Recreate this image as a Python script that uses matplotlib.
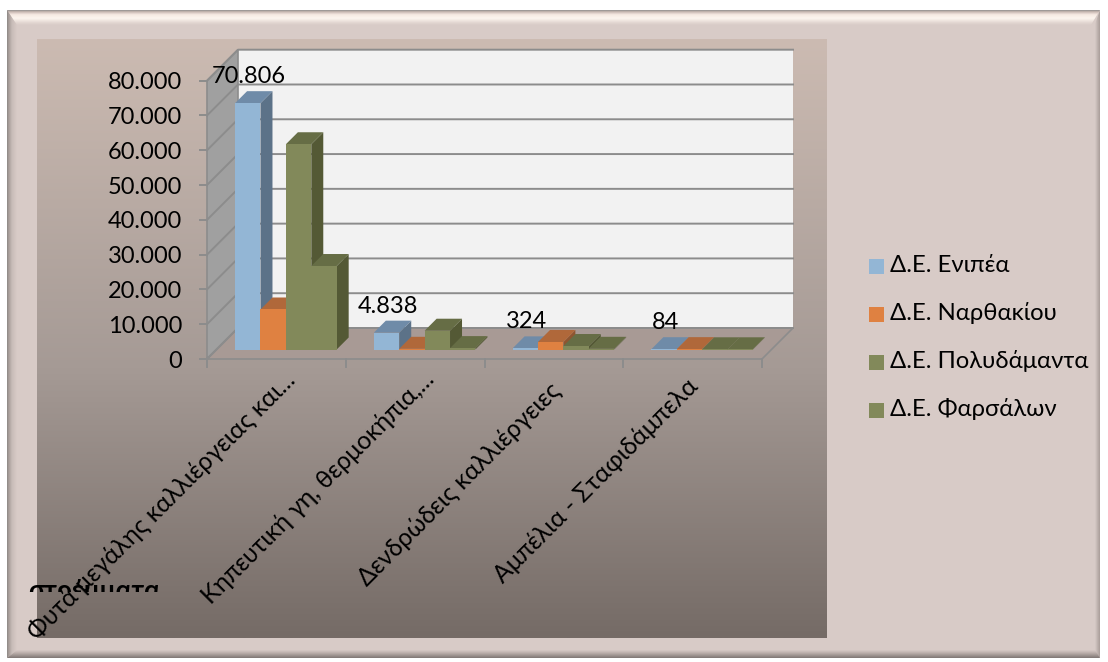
import matplotlib
matplotlib.use("Agg")
import matplotlib.pyplot as plt
from matplotlib.patches import Polygon, Rectangle
import numpy as np

categories = ["Φυτά μεγάλης καλλιέργειας και...", "Κηπευτική γη, θερμοκήπια,...",
              "Δενδρώδεις καλλιέργειες", "Αμπέλια - Σταφιδάμπελα"]
series = ["Δ.Ε. Ενιπέα", "Δ.Ε. Ναρθακίου", "Δ.Ε. Πολυδάμαντα", "Δ.Ε. Φαρσάλων"]
enipea = [70806, 4838, 324, 84]
narthakiou = [11500, 200, 2150, 100]
polydamanta = [59000, 5400, 1000, 60]
farsalon = [24000, 400, 200, 60]
yticks = [0, 10000, 20000, 30000, 40000, 50000, 60000, 70000, 80000]
front_colors = ["#93B6D5", "#DF8141", "#82895A", "#82895A"]
top_colors = ["#6F8BA8", "#B0683A", "#666D45", "#666D45"]
side_colors = ["#5C7288", "#8F5530", "#545935", "#545935"]

W, H = 1108, 662
plt.rcParams['font.family'] = ['Lato', 'Open Sans', 'DejaVu Sans']
fig = plt.figure(figsize=(W/100, H/100), dpi=100, facecolor="white")

def px_axes(l, t, r, b, **kw):
    return fig.add_axes([l/W, 1-b/H, (r-l)/W, (b-t)/H], **kw)

def rgb(h):
    return [int(h[i:i+2], 16) / 255 for i in (1, 3, 5)]

def ramp(stops, cols, n=256):
    t = np.linspace(0, 1, n)
    c = np.array([rgb(k) for k in cols])
    return np.stack([np.interp(t, stops, c[:, j]) for j in range(3)], axis=-1)

# frame
bg = fig.add_axes([0, 0, 1, 1], zorder=0)
bg.axis("off")
FACE = "#D8CBC7"
bg.add_patch(Rectangle((7, 10), 1093, 648, fc=FACE, ec="none", zorder=0))

def strip(box, poly, stops, cols, vertical=True):
    im = ramp(stops, cols)
    im = im[:, None, :] if vertical else im[None, :, :]
    art = bg.imshow(im, extent=box, aspect="auto", zorder=1, interpolation="bilinear")
    art.set_clip_path(Polygon(poly, transform=bg.transData))

strip((7, 1100, 25, 10), [(7, 10), (1100, 10), (1091, 25), (16, 25)],
      [0, .1, .3, .55, .85, 1], ["#8C8C8C", "#C4B3AD", "#F6E9E2", "#FDF5EF", "#E2D6D1", FACE])
strip((7, 17, 658, 10), [(7, 10), (17, 25), (17, 650), (7, 658)],
      [0, .15, .5, 1], ["#8A8684", "#A49A96", "#C8BCB8", FACE], vertical=False)
strip((1095, 1100, 658, 10), [(1095, 24), (1100, 10), (1100, 658), (1095, 652)],
      [0, .6, 1], [FACE, "#BBAFAB", "#A89D99"], vertical=False)
strip((7, 1100, 658, 650), [(7, 658), (17, 650), (1095, 650), (1100, 658)],
      [0, .45, 1], [FACE, "#B4A8A4", "#7E7673"])

img = ramp([0, .55, 1], ["#CCBBB2", "#A59A95", "#756B66"])[:, None, :]
bg.imshow(img, extent=(37, 827, 638, 39), aspect="auto", zorder=1.5)
bg.set_xlim(0, W); bg.set_ylim(H, 0)

# plotting axes = front plane of the 3D box
L, R, T, B = 207, 762, 80.7, 359
ax = px_axes(L, T, R, B, zorder=2)
ax.set_xlim(0, 4); ax.set_ylim(0, 80000)
ax.patch.set_alpha(0); ax.axis("off")
ux = 4 / (R - L); uy = 80000 / (B - T)
D = 31.0
GRID = "#8C8C8C"

def dp(x, y, d):
    return (x + d * ux, y + d * uy)

kw = dict(clip_on=False)
ax.add_patch(Polygon([dp(0, 0, D), dp(4, 0, D), dp(4, 80000, D), dp(0, 80000, D)], fc="#F2F2F2", ec="none", zorder=1, **kw))
ax.add_patch(Polygon([dp(0, 0, 0), dp(0, 0, D), dp(0, 80000, D), dp(0, 80000, 0)], fc="#A0A0A0", ec=GRID, lw=1.2, zorder=1.2, **kw))
ax.add_patch(Polygon([dp(0, 0, 0), dp(4, 0, 0), dp(4, 0, D), dp(0, 0, D)], fc="#A89A95", ec=GRID, lw=1.2, zorder=1.2, **kw))
for v in yticks:
    xs = [dp(0, v, 0)[0], dp(0, v, D)[0], dp(4, v, D)[0]]
    ys = [dp(0, v, 0)[1], dp(0, v, D)[1], dp(4, v, D)[1]]
    ax.plot(xs, ys, color=GRID, lw=1.4, zorder=1.3, **kw)
    ax.plot([-7 * ux, 0], [v, v], color=GRID, lw=1.4, zorder=1.3, **kw)
    ax.text(-25 * ux, v - 2 * uy, f"{v:,}".replace(",", "."), ha="right", va="center", fontsize=17, color="black")
for i in range(5):
    ax.plot([i, i], [0, -8 * uy], color=GRID, lw=1.4, zorder=1.3, **kw)

# bars
data = [enipea, narthakiou, polydamanta, farsalon]
bw = 25.4 * ux
d0, d1 = 9.5, 21.5
n = len(series)
for c in range(len(categories)):
    for s in range(n):
        v = data[s][c]
        x0 = c + 0.5 + (s - n / 2) * bw
        x1 = x0 + bw
        z = 2 + c + s * 0.1
        ax.add_patch(Polygon([dp(x1, 0, d0), dp(x1, 0, d1), dp(x1, v, d1), dp(x1, v, d0)], fc=side_colors[s], ec="none", zorder=z, **kw))
        ax.add_patch(Polygon([dp(x0, v, d0), dp(x1, v, d0), dp(x1, v, d1), dp(x0, v, d1)], fc=top_colors[s], ec="none", zorder=z, **kw))
        ax.add_patch(Polygon([dp(x0, 0, d0), dp(x1, 0, d0), dp(x1, v, d0), dp(x0, v, d0)], fc=front_colors[s], ec="none", zorder=z + 0.01, **kw))
    v = enipea[c]
    xc = c + 0.5 + (0 - n / 2 + 0.5) * bw + 11 * ux
    ax.text(xc, v + 36 * uy, f"{v:,}".replace(",", "."), ha="center", va="center", fontsize=17, color="black", zorder=20)

# category labels
nudge_x = [7, 7, -5, -6]
nudge_y = [-9, -8, -20, -15]
for c, lab in enumerate(categories):
    ax.text(c + 0.5 + nudge_x[c] * ux, (nudge_y[c]) * uy, lab, rotation=45, rotation_mode="anchor",
            ha="right", va="top", fontsize=17.8, color="black", zorder=20, clip_on=False)

# clipped axis title
t = fig.text(28 / W, 1 - 599 / H, "στρέμματα", fontsize=19, fontweight="bold", color="black",
             ha="left", va="baseline", zorder=5)
t.set_clip_path(Rectangle((0, H - 591.5), W, 40, transform=None))
t.set_clip_on(True)

# legend
ly = [266.5, 314.5, 362.5, 410.5]
for y, s, col in zip(ly, series, front_colors):
    bg.add_patch(Rectangle((869, y - 7.5), 15, 15, fc=col, ec="none", zorder=3))
    bg.text(890, y - 1, s, fontsize=17.2, va="center", ha="left", color="black", zorder=3)

fig.savefig("out.png", dpi=100, facecolor="white")
